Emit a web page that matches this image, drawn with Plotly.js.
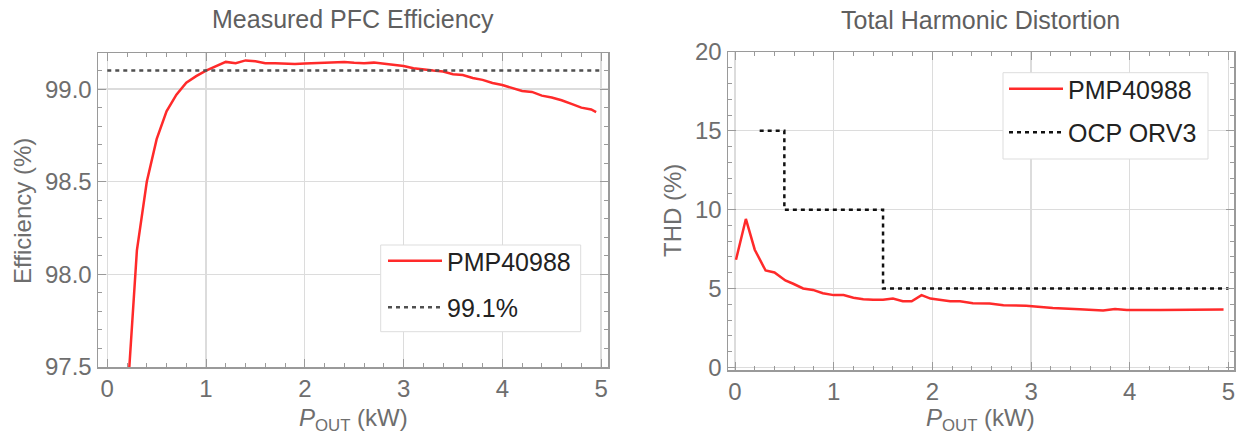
<!DOCTYPE html>
<html>
<head>
<meta charset="utf-8">
<script src="https://cdn.plot.ly/plotly-3.0.1.min.js"></script>
<style>html,body{margin:0;padding:0;background:#fff;}#chart{width:1238px;height:437px;}</style>
</head>
<body>
<div id="chart"></div>
<script>
// ---- Data ----
const effPower = [0.2, 0.3, 0.4, 0.5, 0.6, 0.7, 0.8, 0.9, 1.0, 1.1, 1.2, 1.3, 1.4, 1.5, 1.6, 1.7, 1.8, 1.9, 2.0, 2.1, 2.2, 2.3, 2.4, 2.5, 2.6, 2.7, 2.8, 2.9, 3.0, 3.1, 3.2, 3.3, 3.4, 3.5, 3.6, 3.7, 3.8, 3.9, 4.0, 4.1, 4.2, 4.3, 4.4, 4.5, 4.6, 4.7, 4.8, 4.9, 4.95];
const effValues = [97.31, 98.13, 98.5, 98.73, 98.88, 98.97, 99.035, 99.07, 99.10, 99.125, 99.147, 99.14, 99.155, 99.15, 99.14, 99.14, 99.136, 99.135, 99.138, 99.14, 99.142, 99.143, 99.147, 99.142, 99.139, 99.143, 99.136, 99.132, 99.125, 99.113, 99.105, 99.10, 99.095, 99.08, 99.076, 99.06, 99.05, 99.033, 99.022, 99.008, 98.99, 98.985, 98.965, 98.955, 98.94, 98.92, 98.90, 98.89, 98.876];
const effTargetX = [0, 5];
const effTargetY = [99.1, 99.1];

const thdPower = [0.01, 0.11, 0.2, 0.31, 0.4, 0.51, 0.59, 0.69, 0.79, 0.89, 1.0, 1.1, 1.2, 1.3, 1.4, 1.5, 1.6, 1.7, 1.79, 1.89, 1.98, 2.08, 2.18, 2.28, 2.41, 2.58, 2.72, 2.95, 3.22, 3.49, 3.73, 3.85, 3.97, 4.31, 4.64, 4.95];
const thdValues = [6.82, 9.41, 7.46, 6.14, 6.02, 5.51, 5.3, 5.0, 4.91, 4.7, 4.58, 4.58, 4.41, 4.32, 4.28, 4.28, 4.36, 4.19, 4.19, 4.58, 4.36, 4.28, 4.19, 4.19, 4.07, 4.05, 3.94, 3.90, 3.77, 3.69, 3.60, 3.70, 3.64, 3.64, 3.64, 3.66];
const ocpPower = [0.25, 0.5, 1.5, 5.0];
const ocpLimit = [15, 10, 5, 5];

const seriesName = 'PMP40988';
const effTargetName = '99.1%';
const ocpName = 'OCP ORV3';

// ---- Styles ----
const FONT = 'Liberation Sans, Arial, sans-serif';
const RED = '#ff2a2a';
const frameColor = '#9a9a9a';
const gridColor = '#dcdcdc';
const tickFont = {family: FONT, size: 24, color: '#6e6e6e'};
const DASH = '4px,4px';

function axisBase(extra) {
  return Object.assign({
    showline: true, linecolor: frameColor, linewidth: 1.5, mirror: 'ticks',
    ticks: 'inside', ticklen: 8, tickcolor: frameColor, tickwidth: 1,
    showgrid: true, gridcolor: gridColor, gridwidth: 1.3,
    zeroline: false, tickfont: tickFont, fixedrange: true
  }, extra);
}

const traces = [
  {x: effPower, y: effValues, type: 'scatter', mode: 'lines', name: seriesName,
   line: {color: RED, width: 2.5}, xaxis: 'x', yaxis: 'y', legend: 'legend', legendgroup: 'a'},
  {x: effTargetX, y: effTargetY, type: 'scatter', mode: 'lines', name: effTargetName,
   line: {color: '#505050', width: 2.5, dash: DASH}, xaxis: 'x', yaxis: 'y', legend: 'legend', legendgroup: 'b'},
  {x: thdPower, y: thdValues, type: 'scatter', mode: 'lines', name: seriesName,
   line: {color: RED, width: 2.5}, xaxis: 'x2', yaxis: 'y2', legend: 'legend2', legendgroup: 'c'},
  {x: ocpPower, y: ocpLimit, type: 'scatter', mode: 'lines', name: ocpName,
   line: {color: '#111111', width: 2.5, dash: DASH, shape: 'hv'}, xaxis: 'x2', yaxis: 'y2', legend: 'legend2', legendgroup: 'd'}
];

const legendBase = {
  bgcolor: 'rgba(0,0,0,0)', borderwidth: 0,
  font: {family: FONT, size: 25, color: '#222222'},
  xanchor: 'left', yanchor: 'top', traceorder: 'grouped', itemwidth: 54
};

const W = 1238, H = 437;
const minorX = {ticks: 'inside', ticklen: 4, tickcolor: frameColor, dtick: 0.2, tick0: 0, showgrid: false};
const layout = {
  width: W, height: H,
  margin: {l: 0, r: 0, t: 0, b: 0},
  paper_bgcolor: '#ffffff', plot_bgcolor: '#ffffff',
  font: {family: FONT},
  showlegend: true,
  xaxis: axisBase({domain: [98 / W, 608 / W], range: [-0.094, 5.07], tickvals: [0, 1, 2, 3, 4, 5], anchor: 'y', minor: minorX}),
  yaxis: axisBase({domain: [(H - 367) / H, (H - 53) / H], range: [97.5, 99.195], tickvals: [97.5, 98.0, 98.5, 99.0],
    ticktext: ['97.5', '98.0', '98.5', '99.0'], anchor: 'x',
    minor: {ticks: 'inside', ticklen: 4, tickcolor: frameColor, dtick: 0.1, tick0: 97.5, showgrid: false}}),
  xaxis2: axisBase({domain: [728 / W, 1234 / W], range: [-0.071, 5.056], tickvals: [0, 1, 2, 3, 4, 5], anchor: 'y2', minor: minorX}),
  yaxis2: axisBase({domain: [(H - 370) / H, (H - 52) / H], range: [-0.17, 20], tickvals: [0, 5, 10, 15, 20], anchor: 'x2',
    minor: {ticks: 'inside', ticklen: 4, tickcolor: frameColor, dtick: 1, tick0: 0, showgrid: false}}),
  legend: Object.assign({}, legendBase, {x: 383 / W, y: (H - 238) / H, tracegroupgap: 11}),
  legend2: Object.assign({}, legendBase, {x: 1004 / W, y: (H - 66) / H, tracegroupgap: 8}),
  shapes: [
    {type: 'rect', xref: 'paper', yref: 'paper', layer: 'above',
     x0: 380.7 / W, x1: 580.7 / W, y0: 1 - 331.7 / H, y1: 1 - 245 / H,
     fillcolor: '#ffffff', line: {color: '#dddddd', width: 1}},
    {type: 'rect', xref: 'paper', yref: 'paper', layer: 'above',
     x0: 1003 / W, x1: 1208 / W, y0: 1 - 159 / H, y1: 1 - 72.7 / H,
     fillcolor: '#ffffff', line: {color: '#dddddd', width: 1}}
  ],
  annotations: [
    {text: 'Measured PFC Efficiency', x: 353 / W, y: 1 - 19 / H, xref: 'paper', yref: 'paper', showarrow: false,
     xanchor: 'center', yanchor: 'middle', font: {family: FONT, size: 25, color: '#5f5f5f'}},
    {text: 'Total Harmonic Distortion', x: 980 / W, y: 1 - 20 / H, xref: 'paper', yref: 'paper', showarrow: false,
     xanchor: 'center', yanchor: 'middle', font: {family: FONT, size: 25, color: '#5f5f5f'}},
    {text: 'Efficiency (%)', x: 22 / W, y: 1 - 211 / H, xref: 'paper', yref: 'paper', showarrow: false, textangle: -90,
     xanchor: 'center', yanchor: 'middle', font: {family: FONT, size: 24, color: '#6e6e6e'}},
    {text: 'THD (%)', x: 672 / W, y: 1 - 211 / H, xref: 'paper', yref: 'paper', showarrow: false, textangle: -90,
     xanchor: 'center', yanchor: 'middle', font: {family: FONT, size: 24, color: '#6e6e6e'}},
    {text: '<i>P</i><sub>OUT</sub> (kW)', x: 353 / W, y: 1 - 419 / H, xref: 'paper', yref: 'paper', showarrow: false,
     xanchor: 'center', yanchor: 'middle', font: {family: FONT, size: 24, color: '#6e6e6e'}},
    {text: '<i>P</i><sub>OUT</sub> (kW)', x: 980 / W, y: 1 - 419 / H, xref: 'paper', yref: 'paper', showarrow: false,
     xanchor: 'center', yanchor: 'middle', font: {family: FONT, size: 24, color: '#6e6e6e'}}
  ]
};

Plotly.newPlot('chart', traces, layout, {staticPlot: true, displayModeBar: false});
</script>
</body>
</html>
